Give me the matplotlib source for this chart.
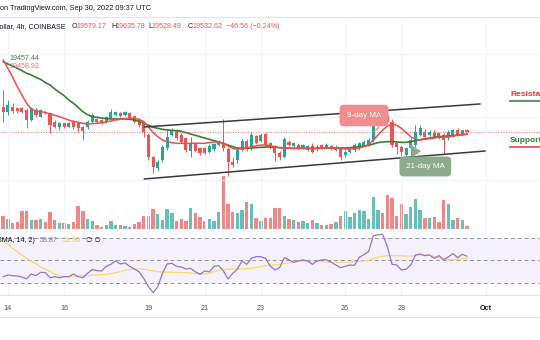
import matplotlib
matplotlib.use("Agg")
import matplotlib.pyplot as plt
from matplotlib.lines import Line2D
import numpy as np

plt.rcParams['font.family'] = ['Liberation Sans', 'DejaVu Sans']

UP = '#26a69a'
DOWN = '#ef5350'

# BTC/USD 4h candles, first one opens Sep 13 20:00 UTC (x axis = day of September)
first_candle = 13 + 20 / 24.0

opens = [20326, 20168, 20326, 20274, 20274, 20221, 19905, 20221, 20010, 20158,
         20116, 19852, 19673, 19800, 19694, 19852, 19800, 19673, 19673, 19852,
         19926, 19905, 19852, 19958, 20063, 20137, 20063, 20137, 20031, 19905,
         19779, 19431, 18725, 18378, 18641, 19010, 19431, 19568, 19431, 19326,
         18936, 19168, 19010, 19010, 18904, 18978, 19115, 19189, 18978, 18588,
         18641, 18957, 19252, 19010, 19399, 19252, 19463, 19168, 19063, 18873,
         18746, 19220, 19084, 19115, 19010, 18957, 19084, 18978, 19115, 19041,
         19084, 18957, 19010, 18799, 18904, 18957, 19010, 19084, 19115, 19273,
         20010, 20116, 20063, 19852, 19168, 19063, 18799, 19010, 19115, 19431,
         19536, 19431, 19505, 19484, 19431, 19326, 19399, 19589, 19431, 19579.17]
highs = [20853, 20537, 20453, 20326, 20326, 20274, 20326, 20274, 20242, 20200,
         20158, 19905, 19852, 19821, 19842, 19905, 19852, 19715, 19905, 20116,
         19968, 19947, 20031, 20242, 20200, 20168, 20179, 20168, 20074, 19958,
         19821, 19484, 18768, 18641, 19115, 19610, 19642, 19610, 19484, 19378,
         19378, 19210, 19063, 19063, 19147, 19189, 19273, 19926, 19063, 18725,
         18999, 19294, 19315, 19536, 19431, 19484, 19505, 19210, 19105, 18915,
         19378, 19273, 19210, 19168, 19147, 19126, 19168, 19105, 19147, 19168,
         19126, 19105, 19063, 18957, 19020, 19168, 19210, 19273, 19326, 20116,
         20347, 20379, 20326, 19926, 19220, 19115, 19063, 19326, 19747, 19747,
         19610, 19589, 19589, 19536, 19484, 19589, 19631, 19642, 19600, 19635.78]
lows = [19852, 20063, 20116, 20137, 20116, 19642, 19884, 20010, 19989, 20095,
        19484, 19642, 19589, 19642, 19673, 19610, 19536, 19273, 19631, 19821,
        19821, 19779, 19821, 19926, 20031, 20010, 20031, 19926, 19821, 19694,
        19378, 18641, 18241, 18304, 18588, 18957, 19399, 19273, 19168, 18904,
        18725, 18894, 18810, 18831, 18852, 18936, 19084, 18936, 18136, 18409,
        18557, 18915, 18936, 18957, 19147, 19210, 19084, 18999, 18620, 18641,
        18704, 19084, 19041, 18978, 18978, 18915, 18873, 18936, 18999, 18999,
        18957, 18915, 18641, 18746, 18852, 18904, 18957, 19041, 19084, 19220,
        19958, 19989, 19800, 19063, 18831, 18768, 18694, 18694, 19063, 19399,
        19357, 19399, 19336, 19315, 18852, 19273, 19357, 19399, 19399, 19528.49]
closes = [20168, 20379, 20200, 20200, 20168, 19905, 20274, 20063, 20221, 20137,
          19747, 19673, 19800, 19694, 19800, 19673, 19642, 19568, 19852, 20063,
          19852, 19821, 20010, 20168, 20147, 20031, 20147, 19958, 19852, 19747,
          19536, 18725, 18409, 18588, 19063, 19378, 19589, 19326, 19220, 18957,
          19189, 18936, 18852, 18873, 19084, 19147, 19210, 19010, 18588, 18483,
          18957, 19252, 18978, 19431, 19189, 19431, 19115, 19063, 18873, 18725,
          19315, 19115, 19168, 19010, 19115, 19084, 18904, 19063, 19041, 19115,
          19010, 19063, 18746, 18904, 18978, 19115, 19168, 19220, 19273, 20010,
          20116, 20063, 19852, 19115, 19063, 18904, 19010, 19273, 19536, 19642,
          19378, 19536, 19378, 19357, 19273, 19536, 19589, 19431, 19579.18, 19532.62]
# volume, thousand BTC
volumes = [4.0, 3.1, 2.0, 2.3, 5.5, 5.5, 2.8, 2.8, 3.1, 2.1,
           5.1, 2.8, 2.0, 2.0, 1.6, 2.1, 6.9, 5.5, 3.0, 2.4,
           1.3, 0.8, 1.4, 2.4, 1.4, 1.4, 1.1, 0.8, 1.7, 2.1,
           4.1, 4.1, 6.0, 4.6, 2.8, 6.0, 5.0, 2.5, 3.1, 2.6,
           6.3, 4.8, 3.8, 2.6, 3.1, 2.6, 5.3, 15.9, 7.6, 5.1,
           5.0, 5.8, 8.2, 7.6, 3.4, 2.6, 3.4, 3.5, 6.3, 6.3,
           4.0, 3.0, 2.8, 2.1, 2.5, 1.8, 2.8, 2.0, 1.4, 1.3,
           1.6, 2.3, 4.0, 5.6, 3.8, 4.8, 5.8, 5.5, 3.0, 9.6,
           5.8, 4.8, 10.2, 9.3, 4.1, 7.5, 4.5, 6.6, 9.1, 5.8,
           3.3, 3.3, 3.8, 2.3, 8.8, 7.6, 2.7, 3.5, 2.9, 1.0]
ma9 = [21801, 21538, 21274, 20958, 20695, 20432, 20242, 20190, 20168, 20147,
       20095, 20053, 20010, 19958, 19905, 19863, 19832, 19800, 19779, 19789,
       19800, 19821, 19842, 19873, 19905, 19926, 19947, 19958, 19958, 19926,
       19852, 19694, 19505, 19378, 19273, 19220, 19189, 19168, 19168, 19168,
       19168, 19168, 19168, 19168, 19189, 19210, 19210, 19168, 19084, 19010,
       18978, 18999, 19020, 19063, 19084, 19115, 19115, 19094, 19063, 19031,
       19020, 19020, 19010, 19010, 19010, 18999, 18999, 19010, 19010, 19020,
       19020, 19020, 18999, 18989, 18989, 18999, 19020, 19063, 19126, 19273,
       19431, 19589, 19715, 19779, 19737, 19642, 19505, 19378, 19294, 19273,
       19294, 19315, 19336, 19357, 19357, 19378, 19399, 19420, 19442, 19458.92]
ma21 = [21748, 21675, 21611, 21538, 21464, 21380, 21327, 21253, 21190, 21085,
        21011, 20885, 20779, 20674, 20537, 20432, 20305, 20168, 20074, 20010,
        19989, 19968, 19947, 19937, 19937, 19937, 19937, 19926, 19905, 19863,
        19800, 19737, 19673, 19642, 19610, 19589, 19578, 19568, 19547, 19505,
        19463, 19421, 19378, 19336, 19294, 19252, 19210, 19168, 19115, 19063,
        19020, 19010, 19010, 19020, 19031, 19041, 19052, 19052, 19041, 19031,
        19020, 19010, 19010, 19010, 19010, 19010, 19010, 19010, 19020, 19020,
        19020, 19020, 19020, 19020, 19031, 19041, 19063, 19084, 19105, 19147,
        19189, 19210, 19220, 19220, 19210, 19199, 19199, 19220, 19252, 19284,
        19315, 19336, 19357, 19378, 19389, 19399, 19410, 19431, 19442, 19457.44]
rsi = [35.6, 37.1, 36.5, 36.2, 35.3, 33.6, 38.0, 36.5, 39.5, 39.2,
       34.7, 35.6, 34.7, 35.6, 35.6, 38.0, 35.6, 34.7, 38.6, 41.9,
       41.0, 40.7, 44.8, 46.6, 49.6, 46.9, 47.8, 44.8, 42.4, 40.0,
       34.1, 26.7, 21.4, 26.7, 38.6, 46.9, 47.5, 44.8, 44.2, 42.4,
       43.0, 40.0, 37.7, 40.7, 40.0, 44.8, 45.4, 40.7, 33.6, 38.6,
       42.4, 49.8, 46.6, 51.9, 53.4, 53.4, 51.9, 45.0, 41.6, 43.6,
       52.5, 50.5, 48.4, 49.6, 50.5, 49.6, 46.6, 49.6, 50.5, 50.7,
       48.4, 46.0, 43.6, 44.8, 46.0, 45.7, 52.8, 55.2, 57.9, 72.1,
       72.7, 73.3, 62.3, 46.6, 46.0, 41.6, 42.2, 46.0, 54.9, 55.8,
       54.3, 54.9, 51.9, 54.3, 50.7, 53.1, 56.1, 52.5, 55.5, 53.87]
rsi_ma = [67.3, 64.4, 60.8, 57.9, 54.9, 52.0, 49.3, 47.2, 44.2, 42.2,
          40.1, 38.0, 36.5, 35.9, 35.6, 35.9, 36.5, 36.5, 36.5, 36.8,
          37.1, 37.4, 37.7, 38.3, 39.2, 40.1, 41.3, 41.9, 42.5, 42.5,
          42.2, 41.6, 40.7, 40.1, 39.8, 39.5, 39.5, 39.5, 39.5, 39.2,
          38.9, 38.3, 38.0, 38.0, 38.9, 40.1, 41.3, 41.9, 42.2, 42.5,
          42.5, 42.5, 42.7, 43.0, 43.9, 44.5, 45.4, 46.0, 46.0, 46.6,
          47.2, 47.8, 48.4, 49.3, 49.3, 49.0, 49.0, 49.0, 49.0, 48.7,
          48.4, 48.4, 48.4, 48.4, 48.4, 48.7, 49.0, 49.6, 50.2, 51.3,
          52.8, 53.7, 54.3, 54.3, 54.3, 54.3, 54.0, 54.0, 54.3, 54.6,
          54.9, 54.6, 53.7, 52.8, 51.3, 50.7, 50.7, 51.3, 51.9, 51.96]

# analyst drawings: (day, price) end points
channel_upper = [(18.85, 19684), (30.80, 20411)]
channel_lower = [(18.85, 18041), (30.98, 18926)]
resistance_level = 20506
support_level = 19052
tick_days = [14, 16, 19, 21, 23, 26, 28, 31]
tick_labels = ['14', '16', '19', '21', '23', '26', '28', 'Oct']

o = np.array(opens, dtype=float)
h = np.array(highs, dtype=float)
l = np.array(lows, dtype=float)
c = np.array(closes, dtype=float)
t = first_candle + np.arange(len(c)) / 6.0
colors = np.where(c >= o, UP, DOWN)

W, H = 540.0, 340.0


def fx(px):
    return px / W


def fy(py):
    return 1 - py / H


fig = plt.figure(figsize=(5.4, 3.4), dpi=100)
fig.patch.set_facecolor('white')

ax = fig.add_axes([0, fy(231), 1, (231 - 17) / H])
axv = ax.twinx()
axr = fig.add_axes([0, fy(295), 1, (295 - 231) / H], sharex=ax)
ax.set_zorder(2)
axv.set_zorder(1)
ax.patch.set_visible(False)
axv.patch.set_visible(False)
axr.patch.set_visible(False)

ax.set_xlim(13.72, 32.93)
ax.set_ylim(16397, 23160)
axv.set_ylim(-0.51, 63.69)
axr.set_ylim(19.33, 76.2)

for a in (ax, axv, axr):
    for s in a.spines.values():
        s.set_visible(False)
    a.tick_params(length=0)

# grid
ax.set_xticks(tick_days)
ax.set_yticks([18000, 20000, 22000])
ax.grid(color='#f0f3fa', lw=0.8)
ax.tick_params(labelbottom=False, labelleft=False)
axv.set_yticks([])
axr.set_yticks([])
axr.grid(axis='x', color='#f0f3fa', lw=0.8)

# volume
axv.bar(t, volumes, width=0.12, color=colors, alpha=0.7, lw=0)

# candles
ax.vlines(t, l, h, colors=colors, lw=0.7, zorder=2)
ax.bar(t, np.maximum(np.abs(c - o), 20), bottom=np.minimum(o, c), width=0.11,
       color=colors, lw=0, zorder=3)

# moving averages
ax.plot(t, ma21, color='#3b7d35', lw=1.2, zorder=4)
ax.plot(t, ma9, color='#f44c4c', lw=1.1, zorder=5)

# last price line
ax.axhline(c[-1], color=DOWN, lw=0.7, ls=(0, (1, 1.6)), alpha=0.85, zorder=1)

# channel
for line in (channel_upper, channel_lower):
    xs, ys = zip(*line)
    ax.plot(xs, ys, color='#3a3a3a', lw=1.1, zorder=6, solid_capstyle='round')

# callouts
ax.annotate('9-day MA', xy=(27.24, 19540), xytext=(26.67, 20047),
            fontsize=5.8, color='white', ha='center', va='center', zorder=7,
            bbox=dict(boxstyle='round,pad=0.9,rounding_size=0.5', fc='#f28d8d', ec='none'),
            arrowprops=dict(arrowstyle='wedge,tail_width=1.3', fc='#f28d8d', ec='none'))
ax.annotate('21-day MA', xy=(28.24, 19210), xytext=(28.85, 18436),
            fontsize=5.8, color='white', ha='center', va='center', zorder=7,
            bbox=dict(boxstyle='round,pad=0.8,rounding_size=0.5', fc='#8cab8c', ec='none'),
            arrowprops=dict(arrowstyle='wedge,tail_width=1.3', fc='#8cab8c', ec='none'))

# support / resistance labels (cut off at the right edge, as in the source)
ax.hlines(resistance_level, 31.84, 33.2, color='#2e7d32', lw=1.1, zorder=6)
ax.annotate('Resistance', xy=(31.87, resistance_level), xytext=(0, 2.5),
            textcoords='offset points', fontsize=6, fontweight='bold', color='#e53935',
            va='bottom', ha='left', zorder=6)
ax.hlines(support_level, 31.84, 33.2, color='#e53935', lw=1.1, zorder=6)
ax.annotate('Support', xy=(31.84, support_level), xytext=(0, 2.5),
            textcoords='offset points', fontsize=6, fontweight='bold', color='#2e7d32',
            va='bottom', ha='left', zorder=6)

# RSI pane
axr.axhspan(30, 70, color='#7e57c2', alpha=0.08, lw=0)
for lvl in (70, 50, 30):
    axr.axhline(lvl, color='#9598a1', lw=0.7, ls=(0, (4, 3)))
axr.plot(t, rsi_ma, color='#f5dc6e', lw=0.9)
axr.plot(t, rsi, color='#9575cd', lw=0.9)

axr.set_xticks(tick_days)
axr.set_xticklabels(tick_labels)
axr.tick_params(axis='x', labelsize=5.2, labelcolor='#4c525e', pad=7.5)
for lab in axr.get_xticklabels():
    if lab.get_text() == 'Oct':
        lab.set_fontweight('bold')
        lab.set_color('#131722')

# separators
for py in (16.5, 294.5, 317):
    fig.add_artist(Line2D([0, 1], [fy(py), fy(py)], color='#e0e3eb', lw=0.8))

# header texts
fs = 5.1
fig.text(fx(0.5), fy(9), 'on TradingView.com, Sep 30, 2022 09:37 UTC',
         fontsize=5.3, color='#131722', va='center', ha='left')
fig.text(fx(65.5), fy(27), 'Bitcoin / U.S. Dollar, 4h, COINBASE',
         fontsize=fs, color='#131722', va='center', ha='right')
chg = c[-1] - c[-2]
pieces = [(71.7, 'O', '#131722'), (76.5, f'{o[-1]:.2f}', DOWN),
          (111, 'H', '#131722'), (115.3, f'{h[-1]:.2f}', DOWN),
          (148.3, 'L', '#131722'), (151.7, f'{l[-1]:.2f}', DOWN),
          (187.7, 'C', '#131722'), (192.5, f'{c[-1]:.2f}', DOWN),
          (226, f'\u2212{abs(chg):.2f} (\u2212{abs(chg) / c[-2] * 100:.2f}%)', DOWN)]
for px, txt, col in pieces:
    fig.text(fx(px), fy(27), txt, fontsize=fs, color=col, va='center', ha='left')

fig.text(fx(10), fy(58), f'{ma21[-1]:.2f}', fontsize=fs, color='#43803f', va='center')
fig.text(fx(10), fy(67), f'{ma9[-1]:.2f}', fontsize=fs, color='#f26b6b', va='center')

# RSI legend
fig.text(fx(35), fy(240), 'RSI (14, close, SMA, 14, 2)', fontsize=fs, color='#131722',
         va='center', ha='right')
fig.text(fx(40), fy(240), f'{rsi[-1]:.2f}', fontsize=fs, color='#8c6bd0', va='center')
fig.text(fx(63), fy(240), f'{rsi_ma[-1]:.2f}', fontsize=fs, color='#e9c93c', va='center')
fig.text(fx(86), fy(240), '\u2205 \u2205', fontsize=fs, color='#131722', va='center',
         family=['DejaVu Sans'])

fig.savefig('out.png', dpi=100)
